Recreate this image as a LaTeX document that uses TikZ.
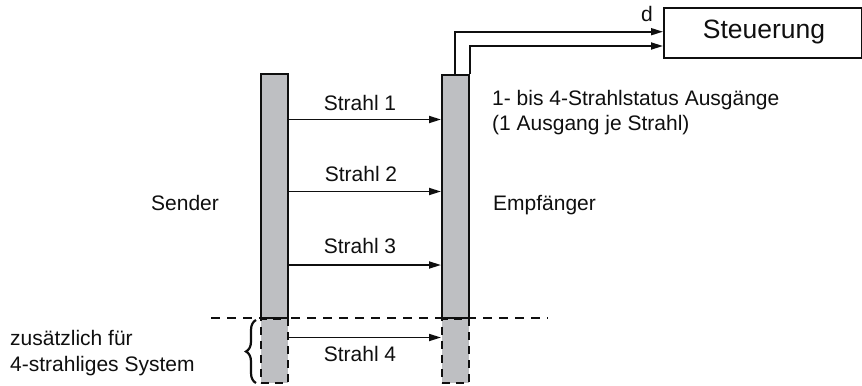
\documentclass[tikz,border=0pt]{standalone}
\usepackage{fontspec}
\setmainfont{Liberation Sans}
\usetikzlibrary{arrows.meta,decorations.pathreplacing}
\definecolor{bargray}{RGB}{190,191,194}
\definecolor{ink}{RGB}{15,15,15}
\begin{document}
\begin{tikzpicture}[x=1bp,y=-1bp,
  bar/.style={draw=ink,line width=1.8bp,fill=bargray,minimum width=27bp,inner sep=0pt,anchor=north west},
  dbar/.style={bar,dashed,dash pattern=on 8bp off 6bp},
  arr/.style={draw=ink,line width=1.7bp,-{Triangle[length=12bp,width=7bp]}},
  lbl/.style={font=\fontsize{21bp}{25bp}\selectfont,inner sep=0pt,text=ink},
  box/.style={draw=ink,line width=1.7bp,minimum width=198bp,minimum height=50bp,inner sep=0pt,anchor=north west}
]
\useasboundingbox (0,0) rectangle (862,385);
% bars
\node[bar,minimum height=244bp] (sb) at (260,73) {};
\node[bar,minimum height=243bp] (rb) at (441,74) {};
\node[dbar,minimum height=64bp] (sd) at (260,318) {};
\node[dbar,minimum height=64bp] (rd) at (441,318) {};
% control box
\node[box] (st) at (663,7) {};
\node[lbl,font=\fontsize{26.5bp}{30bp}\selectfont,anchor=base] (stl) at (764,38) {Steuerung};
% dashed separator
\coordinate (dl) at (211,318);
\coordinate (dr) at (548,318);
\draw[ink,line width=1.7bp,dash pattern=on 9bp off 7bp] (dl) -- (dr);
% beams
\draw[arr] (sb.east |- 0,119.5) -- (rb.west |- 0,119.5);
\draw[arr] (sb.east |- 0,191.5) -- (rb.west |- 0,191.5);
\draw[arr] (sb.east |- 0,265) -- (rb.west |- 0,265);
\draw[arr] (sd.east |- 0,337.5) -- (rd.west |- 0,337.5);
\node[lbl,anchor=base] (s1) at (360,110) {Strahl 1};
\node[lbl,anchor=base] (s2) at (361,181.5) {Strahl 2};
\node[lbl,anchor=base] (s3) at (360,253) {Strahl 3};
\node[lbl,anchor=base] (s4) at (360,361.5) {Strahl 4};
% outputs
\draw[arr] (rb.north west) ++(14,0) |- (st.west |- 0,31.7);
\draw[arr] (rb.north east) |- (st.west |- 0,46);
\node[lbl,anchor=base] (d) at (647,21.5) {d};
% labels
\node[lbl,anchor=base] (sender) at (185,210) {Sender};
\node[lbl,anchor=base west] (empf) at (493,210) {Empfänger};
\node[lbl,anchor=base west] (o1) at (492,105) {1- bis 4-Strahlstatus Ausgänge};
\node[lbl,anchor=base west] (o2) at (492,130) {(1 Ausgang je Strahl)};
\node[lbl,anchor=base west] (z1) at (10,345) {zusätzlich für};
\node[lbl,anchor=base west] (z2) at (10,371.5) {4-strahliges System};
% brace
\coordinate (bb) at (256,383);
\coordinate (bt) at (256,320);
\draw[ink,line width=2.2bp,decorate,decoration={brace,amplitude=10bp}] (bb) -- (bt);
\end{tikzpicture}
\end{document}
